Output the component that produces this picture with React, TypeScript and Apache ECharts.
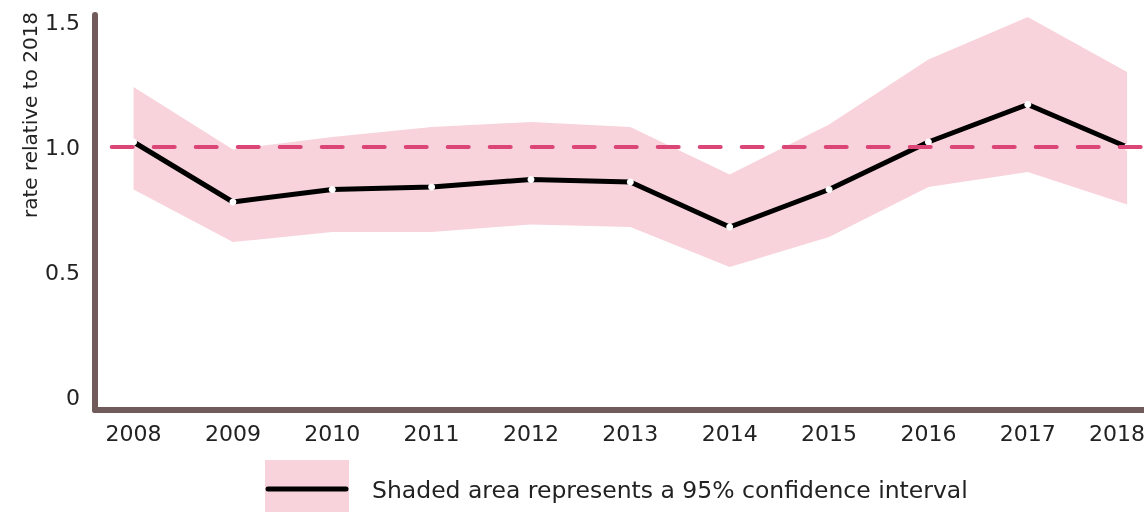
import React, { useEffect, useRef } from "react";
import * as echarts from "echarts";

const years = [2008, 2009, 2010, 2011, 2012, 2013, 2014, 2015, 2016, 2017, 2018];
const rate = [1.02, 0.78, 0.83, 0.84, 0.87, 0.86, 0.68, 0.83, 1.02, 1.17, 1.0];
const upper = [1.24, 0.99, 1.04, 1.08, 1.1, 1.08, 0.89, 1.09, 1.35, 1.52, 1.3];
const lower = [0.83, 0.62, 0.66, 0.66, 0.69, 0.68, 0.52, 0.64, 0.84, 0.9, 0.77];
const yTicks = [0, 0.5, 1.0, 1.5];
const REFERENCE = 1.0;
const yAxisName = "rate relative to 2018";
const legendText = "Shaded area represents a 95% confidence interval";

const FONT = "DejaVu Sans";
const AXIS_COLOR = "#715a5a";
const BAND_COLOR = "#f8d3dc";
const REF_COLOR = "#db4677";
const TEXT_COLOR = "#222222";

export default function App() {
  const ref = useRef<HTMLDivElement>(null);
  useEffect(() => {
    const chart = echarts.init(ref.current!, null, { renderer: "svg" });
    const xMin = 2007.612;
    const xMax = 2018.17;
    const lastYear = years[years.length - 1];
    chart.setOption({
      animation: false,
      grid: { left: 95, right: 0, top: 15, bottom: 102, outerBoundsMode: "none", containLabel: false },
      xAxis: {
        type: "value",
        min: xMin,
        max: xMax,
        splitLine: { show: false },
        axisTick: { show: false },
        axisLine: { show: true, onZero: false, lineStyle: { color: AXIS_COLOR, width: 6, cap: "round" } },
        axisLabel: {
          customValues: years,
          formatter: (v: number) => {
            const y = Math.round(v);
            return y === lastYear ? `{last|${y}}` : String(y);
          },
          rich: { last: { padding: [0, 20, 0, 0], fontFamily: FONT, fontSize: 22, color: TEXT_COLOR } },
          fontFamily: FONT,
          fontSize: 22,
          color: TEXT_COLOR,
          margin: 12,
          showMinLabel: true,
          showMaxLabel: true,
        },
      },
      yAxis: {
        type: "value",
        min: -0.052,
        max: 1.528,
        splitLine: { show: false },
        axisTick: { show: false },
        axisLine: { show: true, onZero: false, lineStyle: { color: AXIS_COLOR, width: 6, cap: "round" } },
        axisLabel: {
          customValues: yTicks,
          formatter: (v: number) => (v === 0 ? "0" : v.toFixed(1)),
          fontFamily: FONT,
          fontSize: 22,
          color: TEXT_COLOR,
          margin: 15,
          showMinLabel: true,
          showMaxLabel: true,
        },
      },
      series: [
        {
          type: "custom",
          silent: true,
          z: 1,
          data: years.map((y, i) => [y, lower[i], upper[i]]),
          renderItem: (params: any, api: any) => {
            if (params.dataIndex !== 0) return null;
            const top = years.map((y, i) => api.coord([y, upper[i]]));
            const bottom = years.map((y, i) => api.coord([y, lower[i]])).reverse();
            return {
              type: "polygon",
              shape: { points: top.concat(bottom) },
              style: { fill: BAND_COLOR },
            };
          },
        },
        {
          type: "line",
          data: [],
          z: 2,
          markLine: {
            silent: true,
            symbol: "none",
            label: { show: false },
            lineStyle: { color: REF_COLOR, width: 4, type: [21, 21], cap: "round" },
            data: [[{ coord: [2007.78, REFERENCE] }, { coord: [xMax, REFERENCE] }]],
          },
        },
        {
          type: "line",
          data: years.map((y, i) => [y, rate[i]]),
          symbol: "circle",
          symbolSize: 7,
          itemStyle: { color: "#ffffff", borderWidth: 0 },
          lineStyle: { color: "#000000", width: 5 },
          z: 3,
        },
      ],
      graphic: [
        {
          type: "text",
          x: 30,
          y: 115,
          rotation: Math.PI / 2,
          style: {
            text: yAxisName,
            font: `20px ${FONT}`,
            fill: TEXT_COLOR,
            align: "center",
            verticalAlign: "middle",
          },
        },
        {
          type: "rect",
          shape: { x: 265, y: 460, width: 84, height: 52 },
          style: { fill: BAND_COLOR },
        },
        {
          type: "line",
          shape: { x1: 268, y1: 489, x2: 346, y2: 489 },
          style: { stroke: "#000000", lineWidth: 5, lineCap: "round" },
        },
        {
          type: "text",
          x: 372,
          y: 490,
          style: {
            text: legendText,
            font: `23.5px ${FONT}`,
            fill: TEXT_COLOR,
            align: "left",
            verticalAlign: "middle",
          },
        },
      ],
    });
    return () => chart.dispose();
  }, []);
  return (
    <div
      ref={ref}
      style={{ position: "fixed", left: 0, top: 0, width: 1144, height: 512 }}
    />
  );
}
